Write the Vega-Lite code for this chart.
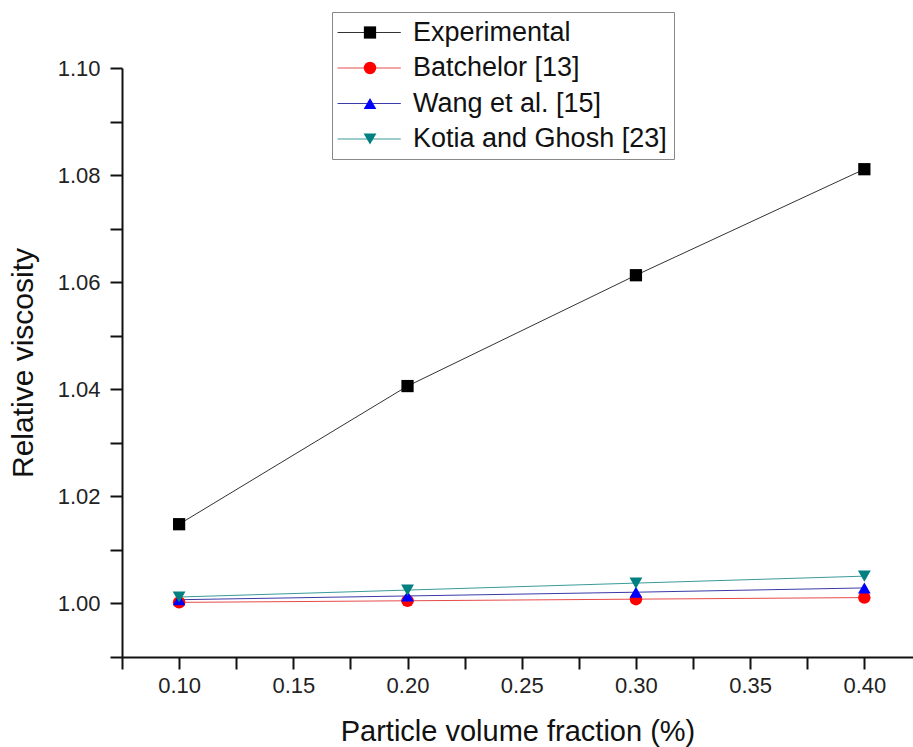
{
  "$schema": "https://vega.github.io/schema/vega-lite/v6.json",
  "width": 791,
  "height": 589,
  "autosize": {"type": "none"},
  "padding": {"left": 122, "top": 68, "right": 0, "bottom": 90},
  "background": "white",
  "config": {
    "view": {"stroke": null},
    "font": "Liberation Sans",
    "axis": {
      "grid": false,
      "domainColor": "#111111",
      "domainWidth": 2,
      "tickColor": "#111111",
      "tickWidth": 2,
      "tickSize": 12,
      "labelColor": "#222222",
      "labelFontSize": 22,
      "labelFont": "Liberation Sans",
      "titleFont": "Liberation Sans",
      "titleFontSize": 29,
      "titleFontWeight": "normal",
      "titleColor": "#111111",
      "labelOverlap": false,
      "labelFlush": false,
      "labelBound": false
    },
    "legend": {
      "labelFont": "Liberation Sans",
      "labelFontSize": 27,
      "labelColor": "#111111",
      "labelLimit": 500,
      "padding": 7,
      "rowPadding": 7.5,
      "title": null
    }
  },
  "data": {
    "values": [
      {"series": "Experimental", "fraction": 0.1, "viscosity": 1.0148},
      {"series": "Experimental", "fraction": 0.2, "viscosity": 1.0406},
      {"series": "Experimental", "fraction": 0.3, "viscosity": 1.0613},
      {"series": "Experimental", "fraction": 0.4, "viscosity": 1.0811},
      {"series": "Batchelor [13]", "fraction": 0.1, "viscosity": 1.0002},
      {"series": "Batchelor [13]", "fraction": 0.2, "viscosity": 1.0005},
      {"series": "Batchelor [13]", "fraction": 0.3, "viscosity": 1.0008},
      {"series": "Batchelor [13]", "fraction": 0.4, "viscosity": 1.0011},
      {"series": "Wang et al. [15]", "fraction": 0.1, "viscosity": 1.0007},
      {"series": "Wang et al. [15]", "fraction": 0.2, "viscosity": 1.0014},
      {"series": "Wang et al. [15]", "fraction": 0.3, "viscosity": 1.0021},
      {"series": "Wang et al. [15]", "fraction": 0.4, "viscosity": 1.0029},
      {"series": "Kotia and Ghosh [23]", "fraction": 0.1, "viscosity": 1.0012},
      {"series": "Kotia and Ghosh [23]", "fraction": 0.2, "viscosity": 1.0025},
      {"series": "Kotia and Ghosh [23]", "fraction": 0.3, "viscosity": 1.0038},
      {"series": "Kotia and Ghosh [23]", "fraction": 0.4, "viscosity": 1.0051}
    ]
  },
  "encoding": {
    "x": {
      "field": "fraction",
      "type": "quantitative",
      "scale": {"domain": [0.075, 0.4213], "nice": false, "zero": false},
      "axis": {
        "title": "Particle volume fraction (%)",
        "values": [0.075, 0.1, 0.125, 0.15, 0.175, 0.2, 0.225, 0.25, 0.275, 0.3, 0.325, 0.35, 0.375, 0.4],
        "labelExpr": "abs(round(datum.value*20)-datum.value*20) < 0.01 ? format(datum.value, '.2f') : ''",
        "labelPadding": 6,
        "titlePadding": 21,
        "encode": {
          "ticks": {
            "update": {
              "y2": {"signal": "abs(round(datum.value*20)-datum.value*20) < 0.01 ? 12 : 6"}
            }
          }
        }
      }
    },
    "y": {
      "field": "viscosity",
      "type": "quantitative",
      "scale": {"domain": [0.99, 1.1], "nice": false, "zero": false},
      "axis": {
        "title": "Relative viscosity",
        "titleFontSize": 30,
        "values": [0.99, 1.0, 1.01, 1.02, 1.03, 1.04, 1.05, 1.06, 1.07, 1.08, 1.09, 1.1],
        "labelExpr": "abs(round(datum.value*50)-datum.value*50) < 0.01 ? format(datum.value, '.2f') : ''",
        "labelPadding": 10,
        "titlePadding": 19,
        "encode": {
          "ticks": {
            "update": {
              "x2": {"signal": "abs(round(datum.value*50)-datum.value*50) < 0.01 ? -12 : -6"}
            }
          }
        }
      }
    }
  },
  "layer": [
    {
      "mark": {"type": "line", "strokeWidth": 1},
      "encoding": {
        "stroke": {
          "field": "series",
          "type": "nominal",
          "scale": {
            "domain": ["Experimental", "Batchelor [13]", "Wang et al. [15]", "Kotia and Ghosh [23]"],
            "range": ["#333333", "#e84a4a", "#3a3aa8", "#3a9a9a"]
          },
          "legend": {
            "orient": "none",
            "legendX": 210,
            "legendY": -56,
            "symbolType": "M-1.3,0H4.2",
            "symbolSize": 529,
            "symbolStrokeWidth": 1,
            "labelOffset": 47,
            "strokeColor": "#888888"
          }
        }
      }
    },
    {
      "mark": {"type": "point", "filled": true, "opacity": 1},
      "encoding": {
        "color": {
          "field": "series",
          "type": "nominal",
          "sort": null,
          "scale": {"range": ["#000000", "#ff0000", "#0000ff", "#008080"]},
          "legend": {
            "orient": "none",
            "legendX": 227.5,
            "legendY": -56,
            "symbolSize": 200,
            "symbolStrokeWidth": 0,
            "symbolOpacity": 1,
            "labelExpr": "''"
          }
        },
        "shape": {
          "field": "series",
          "type": "nominal",
          "sort": null,
          "scale": {"range": ["square", "circle", "triangle-up", "triangle-down"]}
        },
        "size": {
          "field": "series",
          "type": "nominal",
          "sort": null,
          "scale": {"range": [150, 165, 220, 220]},
          "legend": null
        }
      }
    }
  ]
}
